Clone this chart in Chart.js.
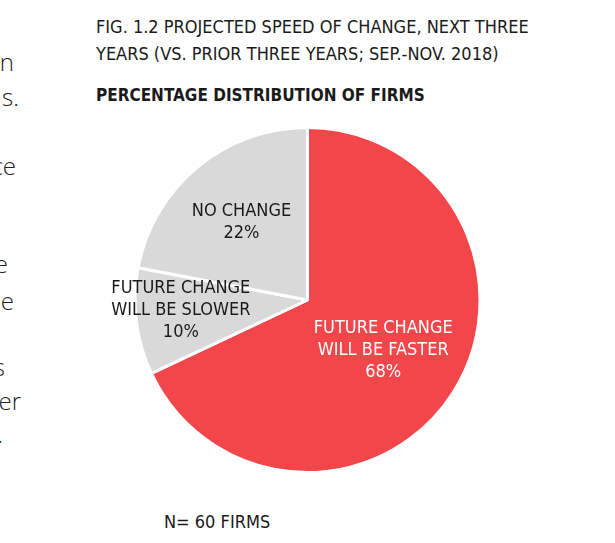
<!DOCTYPE html>
<html lang="en">
<head>
  <meta charset="UTF-8">
  <title>Projected Speed of Change</title>
  <script src="https://cdn.jsdelivr.net/npm/chart.js"></script>
  <style>
    html, body { margin: 0; padding: 0; background: #fff; }
    body { width: 615px; height: 543px; position: relative; overflow: hidden;
           font-family: "DejaVu Sans Condensed", "DejaVu Sans", sans-serif; color: #1a1a1a; }
    .frag { position: absolute; white-space: nowrap;
            font-family: "Open Sans", sans-serif; font-weight: 300; font-size: 24px; color: #222; line-height: 1; }
    .title { position: absolute; left: 96px; top: 13px; font-size: 18px; line-height: 27px; }
    .subtitle { position: absolute; left: 96px; top: 85px; font-size: 17px; font-weight: bold; }
    .note { position: absolute; left: 164px; top: 511px; font-size: 18px; }
    #wrap { position: absolute; left: 0; top: 120px; width: 615px; height: 360px; }
    .slice-label { position: absolute; transform: translate(-50%, -50%); text-align: center;
                   white-space: nowrap; font-size: 18px; line-height: 22px; pointer-events: none; }
  </style>
</head>
<body>
  <!-- clipped text column from the neighbouring page area (right edge = 615 - right) -->
  <div class="frag" style="top:50px;right:601px">n</div>
  <div class="frag" style="top:85px;right:596px">s.</div>
  <div class="frag" style="top:154px;right:599px">ce</div>
  <div class="frag" style="top:252px;right:607px">e</div>
  <div class="frag" style="top:289px;right:601px">e</div>
  <div class="frag" style="top:355px;right:610px">s</div>
  <div class="frag" style="top:389px;right:594px">er</div>
  <div class="frag" style="top:422px;right:612px">.</div>

  <div class="title">FIG. 1.2 PROJECTED SPEED OF CHANGE, NEXT THREE<br>YEARS (VS. PRIOR THREE YEARS; SEP.-NOV. 2018)</div>
  <div class="subtitle">PERCENTAGE DISTRIBUTION OF FIRMS</div>

  <div id="wrap"><canvas id="pie" width="615" height="360"></canvas></div>

  <div class="note">N= 60 FIRMS</div>

  <script>
    const categories = [
      ["FUTURE CHANGE", "WILL BE FASTER"],
      ["FUTURE CHANGE", "WILL BE SLOWER"],
      ["NO CHANGE"]
    ];
    const shares = [68, 10, 22];
    const sliceColors = ['#f3464a', '#d9d9d9', '#d9d9d9'];
    const labelColors = ['#ffffff', '#1a1a1a', '#1a1a1a'];
    // how far out along each slice's middle the label sits (fraction of radius), plus a small vertical nudge
    const labelRadius = [0.52, 0.74, 0.6];
    const labelNudgeY = [1, -7, 1];

    const wrap = document.getElementById('wrap');

    // labels as html text placed on each arc's mid angle
    const sliceLabels = {
      id: 'sliceLabels',
      afterDraw(chart) {
        const meta = chart.getDatasetMeta(0);
        meta.data.forEach((arc, i) => {
          let el = document.getElementById('lbl' + i);
          if (!el) {
            el = document.createElement('div');
            el.id = 'lbl' + i;
            el.className = 'slice-label';
            el.innerHTML = categories[i].concat([shares[i] + '%']).join('<br>');
            el.style.color = labelColors[i];
            wrap.appendChild(el);
          }
          const mid = (arc.startAngle + arc.endAngle) / 2;
          const r = arc.outerRadius * labelRadius[i];
          el.style.left = (arc.x + Math.cos(mid) * r) + 'px';
          el.style.top = (arc.y + Math.sin(mid) * r + labelNudgeY[i]) + 'px';
        });
      }
    };

    new Chart(document.getElementById('pie'), {
      type: 'pie',
      data: {
        labels: categories.map(c => c.join(' ')),
        datasets: [{
          data: shares,
          backgroundColor: sliceColors,
          borderColor: '#ffffff',
          borderWidth: 3
        }]
      },
      options: {
        responsive: false,
        animation: false,
        layout: { padding: { top: 6, bottom: 6, left: 0, right: 0 } },
        plugins: {
          legend: { display: false },
          tooltip: { enabled: false }
        }
      },
      plugins: [sliceLabels]
    });
  </script>
</body>
</html>
